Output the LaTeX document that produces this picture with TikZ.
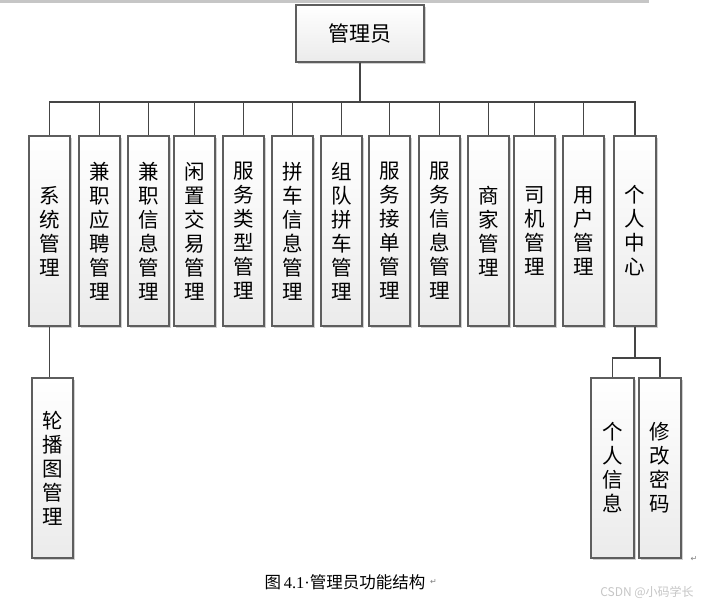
\documentclass[tikz,border=0pt]{standalone}
\usepackage{fontspec}
\setmainfont{Noto Sans CJK SC}
\newfontfamily\numfont{Liberation Serif}
\newfontfamily\markfont{DejaVu Sans}
\usetikzlibrary{positioning,shadows}
\definecolor{cline}{HTML}{454545}
\definecolor{cedge}{HTML}{5E5E5E}
\definecolor{cshade}{HTML}{EBEBEB}
\tikzset{
  funcbox/.style={draw=cedge, line width=1.2pt, top color=white, bottom color=cshade,
    align=center, inner sep=0pt, minimum width=41pt, minimum height=190pt,
    font=\fontsize{20.5}{24}\selectfont,
    drop shadow={shadow xshift=2pt, shadow yshift=-2pt, fill=black!30, opacity=0.6}},
  subbox/.style={funcbox, minimum height=180pt},
  rootbox/.style={funcbox, minimum width=128pt, minimum height=57pt,
    font=\fontsize{21}{24}\selectfont},
  link/.style={draw=cline, line width=1.6pt}
}

\begin{document}
\begin{tikzpicture}[x=1pt, y=-1pt]
    \fill[white] (0,0) rectangle (707,606);
    \useasboundingbox (0,0) rectangle (707,606);
    \draw[gray!45, line width=3pt] (0,1.5) -- (649,1.5);

    % root
    \node[rootbox] (root) at (360,33.5) {管理员};

    % first level
    \node[funcbox] (sys) at (49.5,231) {系\\统\\管\\理};
    \node[funcbox] (partjob) at (99.5,231) {兼\\职\\应\\聘\\管\\理};
    \node[funcbox] (partinfo) at (148.5,231) {兼\\职\\信\\息\\管\\理};
    \node[funcbox] (idle) at (194.5,231) {闲\\置\\交\\易\\管\\理};
    \node[funcbox] (svctype) at (243.5,231) {服\\务\\类\\型\\管\\理};
    \node[funcbox] (carpool) at (292.5,231) {拼\\车\\信\\息\\管\\理};
    \node[funcbox] (teamcar) at (341.5,231) {组\\队\\拼\\车\\管\\理};
    \node[funcbox] (svcorder) at (389.5,231) {服\\务\\接\\单\\管\\理};
    \node[funcbox] (svcinfo) at (439.5,231) {服\\务\\信\\息\\管\\理};
    \node[funcbox] (merchant) at (488.5,231) {商\\家\\管\\理};
    \node[funcbox] (driver) at (534.5,231) {司\\机\\管\\理};
    \node[funcbox] (user) at (583.5,231) {用\\户\\管\\理};
    \node[funcbox, minimum width=42pt] (center) at (635,231) {个\\人\\中\\心};

    % second level
    \node[subbox] (carousel) at (52.5,468) {轮\\播\\图\\管\\理};
    \node[subbox, minimum width=43pt] (profile) at (612.5,468) {个\\人\\信\\息};
    \node[subbox, minimum width=42pt] (passwd) at (660,468) {修\\改\\密\\码};

    \coordinate (bus) at (360,102);
    \coordinate (fork) at (635,358);

    \foreach \n in {sys,partjob,partinfo,idle,svctype,carpool,teamcar,svcorder,svcinfo,merchant,driver,user,center}
      \draw[link] (root.south) -- (bus) -| (\n.north);
    \draw[link] (sys.south) -- (sys.south |- carousel.north);
    \draw[link] (center.south) -- (fork) -| (profile.north);
    \draw[link] (center.south) -- (fork) -| (passwd.north);

    % caption and marks
    \node[font=\fontsize{16.5}{16}\selectfont] (cap) at (345,582) {图\,{\numfont 4.1·}管理员功能结构};
    \node[anchor=west, inner sep=1pt, text=gray, font=\markfont\fontsize{8}{8}\selectfont] (ret1) at (cap.east) {↵};
    \node[text=gray, font=\markfont\fontsize{8}{8}\selectfont] (ret2) at (694,559) {↵};
    \node[text=gray!45, font=\fontsize{12}{12}\selectfont] (mark) at (647,592) {CSDN @小码学长};
  \end{tikzpicture}
\end{document}
